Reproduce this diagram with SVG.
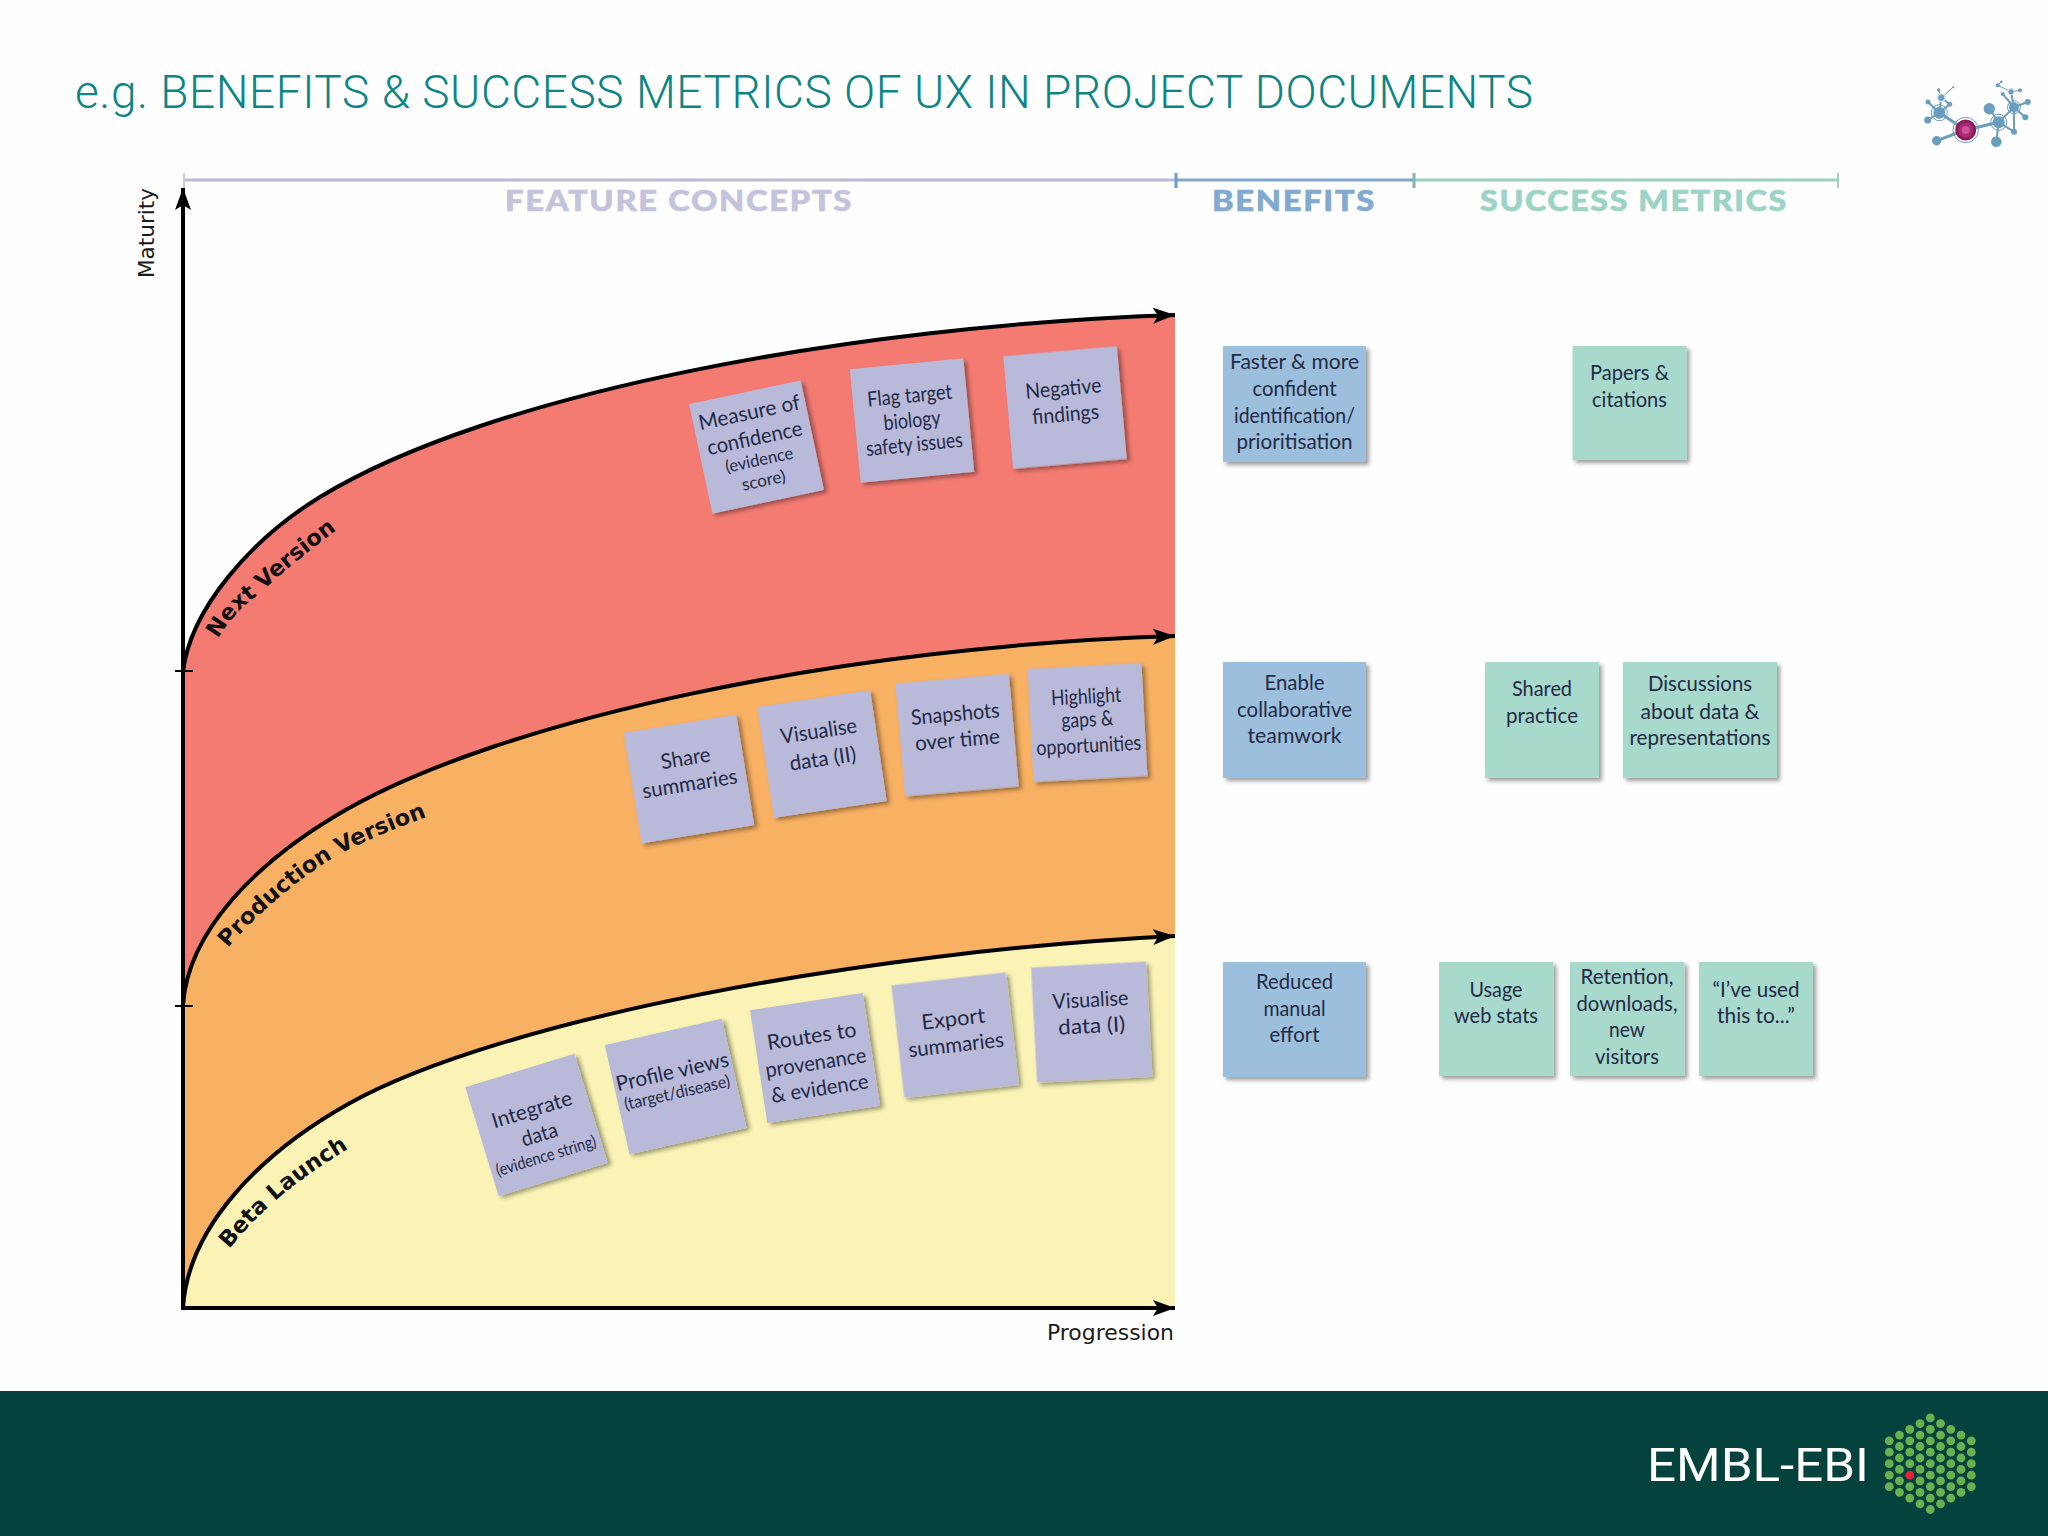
<svg xmlns="http://www.w3.org/2000/svg" xmlns:xlink="http://www.w3.org/1999/xlink" width="2048" height="1536" viewBox="0 0 2048 1536">
<style>
.t{font-family:Lato,"Liberation Sans",sans-serif;font-size:21px;text-anchor:middle;fill:#232a45}
.s{font-size:17px}
.h{font-family:Lato,"Liberation Sans",sans-serif;font-weight:900;font-size:29px;letter-spacing:1.5px;text-anchor:middle;stroke-width:0.6px}
.v{font-family:"DejaVu Sans",sans-serif;font-weight:700;font-size:22.5px;fill:#111}
.a{font-family:"DejaVu Sans",sans-serif;font-size:22px;fill:#1a1a1a}
.p{fill:#b9b9d9;filter:url(#sh)}
.b{fill:#9cbfdd;filter:url(#sh)}
.g{fill:#a7d9cd;filter:url(#sh)}
.c{fill:none;stroke:#000;stroke-width:4;marker-end:url(#ah)}
.m{stroke:#6b9dbf;fill:none}
.n{fill:#6b9dbf}
.d{fill:#6ab04f}
</style>
<defs>
<filter id="sh" x="-15%" y="-15%" width="135%" height="135%"><feDropShadow dx="3" dy="3" stdDeviation="2.2" flood-color="#000" flood-opacity="0.38"/></filter>
<marker id="ah" markerUnits="userSpaceOnUse" markerWidth="24" markerHeight="20" viewBox="0 0 24 20" refX="22" refY="10" orient="auto"><path d="M0 2L22 10L0 18L5 10Z" fill="#000"/></marker>
<path id="pn" d="M218,639 C232,615 245,605 260,593 C285,570 312,548 350,520"/>
<path id="pp" d="M228,948 C255,915 300,878 330,860 C360,842 392,830 434,814"/>
<path id="pb" d="M229,1249 C245,1230 262,1212 283,1194 C303,1178 327,1161 358,1143"/>
</defs>
<rect width="2048" height="1536" fill="#fefefe"/>
<text id="title" x="75" y="108" textLength="1458" style="font-family:Roboto,'Liberation Sans',sans-serif;font-weight:300;font-size:46px;fill:#0d8585">e.g. BENEFITS &amp; SUCCESS METRICS OF UX IN PROJECT DOCUMENTS</text>

<g id="molecule">
<g class="m" stroke-width="2">
<path stroke-width="3" d="M1965.7 130L1939.3 112.7M1965.7 130L1936.7 140.7M1965.7 130L1998.7 122.3"/>
<path d="M1939.3 112.7L1927.7 120M1939.3 112.7L1928 102M1939.3 112.7L1949.7 104.3M1939.3 112.7L1941.3 97.7M1941.3 97.7L1949.7 104.3M1998.7 122.3L1989.3 108.7M1998.7 122.3L1996.3 141.7M1998.7 122.3L2014 131.7M1998.7 122.3L2014 107.3M2014 107.3L2014 131.7M2014 107.3L2025.3 117.3M2014 107.3L2027.7 102M2014 107.3L2002.7 94M2014 107.3L2011 91.7"/>
<path stroke-width="1" d="M1941.3 97.7L1938.7 90M1941.3 97.7L1953.3 87M2011 91.7L2020 90.3M2011 91.7L1997.7 85.3M1997.7 85.3L2001.3 81.7"/>
</g>
<circle cx="1939.3" cy="112.7" r="8" fill="#fff" class="m" stroke-width="1"/>
<circle cx="1998.7" cy="122.3" r="8" fill="#fff" class="m" stroke-width="1"/>
<circle cx="2014" cy="107.3" r="6.5" fill="#fff" class="m" stroke-width="1"/>
<circle cx="1941.3" cy="97.7" r="4.5" fill="#cfe0ec"/>
<circle cx="2011" cy="91.7" r="3.6" fill="#cfe0ec"/>
<g class="n">
<circle cx="1939.3" cy="112.7" r="6"/><circle cx="1927.7" cy="120" r="3.5"/><circle cx="1928" cy="102" r="2.5"/><circle cx="1949.7" cy="104.3" r="2.5"/><circle cx="1941.3" cy="97.7" r="3"/><circle cx="1938.7" cy="90" r="1.7"/><circle cx="1953.3" cy="87" r="1"/><circle cx="1936.7" cy="140.7" r="4.7"/><circle cx="1989.3" cy="108.7" r="5.7"/><circle cx="1998.7" cy="122.3" r="6"/><circle cx="1996.3" cy="141.7" r="5.3"/><circle cx="2014" cy="131.7" r="3"/><circle cx="2014" cy="107.3" r="5"/><circle cx="2025.3" cy="117.3" r="3"/><circle cx="2027.7" cy="102" r="3"/><circle cx="2002.7" cy="94" r="2"/><circle cx="2011" cy="91.7" r="2.5"/><circle cx="2020" cy="90.3" r="2"/><circle cx="1997.7" cy="85.3" r="2"/><circle cx="2001.3" cy="81.7" r="1.3"/>
</g>
<circle cx="1965.7" cy="130" r="12.7" fill="#fff" class="m" stroke-width="1"/>
<circle cx="1965.7" cy="130" r="10.5" fill="#8c1c5c"/>
<circle cx="1965.7" cy="130" r="7.5" fill="#a82a72"/>
<circle cx="1965.7" cy="130" r="4" fill="#cf4f98"/>
</g>

<g id="header">
<path d="M184 180H1175" stroke="#b9bad6" stroke-width="3"/>
<path d="M184 173V188" stroke="#c9cade" stroke-width="2"/>
<path d="M1175 180H1414" stroke="#7fa6cb" stroke-width="3"/>
<path d="M1176 173V188" stroke="#6f9bc4" stroke-width="3"/>
<path d="M1414 180H1838" stroke="#9cd0c0" stroke-width="3"/>
<path d="M1414 173V188" stroke="#7fb5ad" stroke-width="3"/>
<path d="M1838 173V188" stroke="#9cd0c0" stroke-width="2"/>
<text class="h" x="679" y="211" textLength="348" lengthAdjust="spacingAndGlyphs" fill="#c3c3dc" stroke="#c3c3dc">FEATURE CONCEPTS</text>
<text class="h" x="1294" y="211" textLength="164" lengthAdjust="spacingAndGlyphs" fill="#82a9cf" stroke="#82a9cf">BENEFITS</text>
<text class="h" x="1634" y="211" textLength="308" lengthAdjust="spacingAndGlyphs" fill="#9cd3c5" stroke="#9cd3c5">SUCCESS METRICS</text>
</g>

<g id="bands">
<path fill="#f47b72" d="M183,672 C190,610 250,540 320,497 C490,393 850,326 1175,315 V1308 H183 Z"/>
<path fill="#f8b063" d="M183,1005 C188,930 258,862 337,815 C500,718 850,646 1175,636 V1308 H183 Z"/>
<path fill="#faf3b5" d="M183,1308 C188,1226 262,1152 350,1103 C500,1020 860,952 1175,936 V1308 Z"/>
</g>

<g id="connectors">
<path class="c" d="M183,672 C190,610 250,540 320,497 C490,393 850,326 1175,315"/>
<path class="c" d="M183,1005 C188,930 258,862 337,815 C500,718 850,646 1175,636"/>
<path class="c" d="M183,1308 C188,1226 262,1152 350,1103 C500,1020 860,952 1175,936"/>
<path class="c" d="M183,1308 V188"/>
<path class="c" d="M181,1308 H1175"/>
<path d="M175,671H193M175,1006H193" stroke="#000" stroke-width="2"/>
</g>

<g id="axis-labels">
<text class="a" transform="translate(154 278) rotate(-90)" textLength="90" lengthAdjust="spacingAndGlyphs">Maturity</text>
<text class="a" x="1047" y="1340" textLength="127" lengthAdjust="spacingAndGlyphs">Progression</text>
<text class="v"><textPath xlink:href="#pn" href="#pn">Next Version</textPath></text>
<text class="v"><textPath xlink:href="#pp" href="#pp">Production Version</textPath></text>
<text class="v"><textPath xlink:href="#pb" href="#pb">Beta Launch</textPath></text>
</g>

<g id="note-measure" transform="translate(756.5 447) rotate(-12)"><rect class="p" x="-57" y="-56" width="114" height="112"/>
<text class="t" y="-28" textLength="103" lengthAdjust="spacingAndGlyphs">Measure of</text><text class="t" y="-2" textLength="97" lengthAdjust="spacingAndGlyphs">confidence</text><text class="t s" y="19" textLength="69" lengthAdjust="spacingAndGlyphs">(evidence</text><text class="t s" y="40" textLength="44" lengthAdjust="spacingAndGlyphs">score)</text></g>
<g id="note-flag" transform="translate(912 420.5) rotate(-5.5)"><rect class="p" x="-57" y="-57" width="114" height="114"/>
<text class="t" y="-18" textLength="85" lengthAdjust="spacingAndGlyphs">Flag target</text><text class="t" y="7" textLength="57" lengthAdjust="spacingAndGlyphs">biology</text><text class="t" y="31" textLength="97" lengthAdjust="spacingAndGlyphs">safety issues</text></g>
<g id="note-negative" transform="translate(1065 407.5) rotate(-5)"><rect class="p" x="-57" y="-56.5" width="114" height="113"/>
<text class="t" y="-12" textLength="76" lengthAdjust="spacingAndGlyphs">Negative</text><text class="t" y="14" textLength="67" lengthAdjust="spacingAndGlyphs">findings</text></g>

<g id="note-share" transform="translate(689 779) rotate(-9.2)"><rect class="p" x="-57" y="-56" width="114" height="112"/>
<text class="t" y="-14" textLength="50" lengthAdjust="spacingAndGlyphs">Share</text><text class="t" y="12" textLength="96" lengthAdjust="spacingAndGlyphs">summaries</text></g>
<g id="note-visualise2" transform="translate(822 754) rotate(-8.5)"><rect class="p" x="-57" y="-56" width="114" height="112"/>
<text class="t" y="-16" textLength="77" lengthAdjust="spacingAndGlyphs">Visualise</text><text class="t" y="12" textLength="67" lengthAdjust="spacingAndGlyphs">data (II)</text></g>
<g id="note-snapshots" transform="translate(957 735) rotate(-5)"><rect class="p" x="-57" y="-56.5" width="114" height="113"/>
<text class="t" y="-14" textLength="89" lengthAdjust="spacingAndGlyphs">Snapshots</text><text class="t" y="12" textLength="85" lengthAdjust="spacingAndGlyphs">over time</text></g>
<g id="note-highlight" transform="translate(1087.5 722.5) rotate(-3)"><rect class="p" x="-57" y="-56.5" width="114" height="113"/>
<text class="t" y="-19" textLength="70" lengthAdjust="spacingAndGlyphs">Highlight</text><text class="t" y="4" textLength="52" lengthAdjust="spacingAndGlyphs">gaps &amp;</text><text class="t" y="30" textLength="105" lengthAdjust="spacingAndGlyphs">opportunities</text></g>

<g id="note-integrate" transform="translate(536.5 1125) rotate(-17)"><rect class="p" x="-57" y="-57" width="114" height="114"/>
<text class="t" y="-9" textLength="83" lengthAdjust="spacingAndGlyphs">Integrate</text><text class="t" y="17" textLength="37" lengthAdjust="spacingAndGlyphs">data</text><text class="t s" y="38" textLength="104" lengthAdjust="spacingAndGlyphs">(evidence string)</text></g>
<g id="note-profile" transform="translate(675.7 1086.5) rotate(-12.7)"><rect class="p" x="-60" y="-56" width="120" height="112"/>
<text class="t" y="-8" textLength="115" lengthAdjust="spacingAndGlyphs">Profile views</text><text class="t s" y="12" textLength="108" lengthAdjust="spacingAndGlyphs">(target/disease)</text></g>
<g id="note-routes" transform="translate(815 1058) rotate(-8.7)"><rect class="p" x="-57" y="-57" width="114" height="114"/>
<text class="t" y="-15" textLength="90" lengthAdjust="spacingAndGlyphs">Routes to</text><text class="t" y="12" textLength="102" lengthAdjust="spacingAndGlyphs">provenance</text><text class="t" y="38" textLength="98" lengthAdjust="spacingAndGlyphs">&amp; evidence</text></g>
<g id="note-export" transform="translate(955 1035) rotate(-6.5)"><rect class="p" x="-57.5" y="-56.5" width="115" height="113"/>
<text class="t" y="-9" textLength="64" lengthAdjust="spacingAndGlyphs">Export</text><text class="t" y="17" textLength="96" lengthAdjust="spacingAndGlyphs">summaries</text></g>
<g id="note-visualise1" transform="translate(1091.5 1022) rotate(-3)"><rect class="p" x="-57.5" y="-57.5" width="115" height="115"/>
<text class="t" y="-15" textLength="76" lengthAdjust="spacingAndGlyphs">Visualise</text><text class="t" y="11" textLength="67" lengthAdjust="spacingAndGlyphs">data (I)</text></g>

<g id="benefit-faster"><rect class="b" x="1223" y="346" width="143" height="116"/>
<text class="t" x="1294.5" y="369" textLength="129" lengthAdjust="spacingAndGlyphs">Faster &amp; more</text><text class="t" x="1294.5" y="396" textLength="84" lengthAdjust="spacingAndGlyphs">confident</text><text class="t" x="1294.5" y="423" textLength="121" lengthAdjust="spacingAndGlyphs">identification/</text><text class="t" x="1294.5" y="449" textLength="116" lengthAdjust="spacingAndGlyphs">prioritisation</text></g>
<g id="benefit-enable"><rect class="b" x="1223" y="662" width="143" height="116"/>
<text class="t" x="1294.5" y="690" textLength="60" lengthAdjust="spacingAndGlyphs">Enable</text><text class="t" x="1294.5" y="717" textLength="115" lengthAdjust="spacingAndGlyphs">collaborative</text><text class="t" x="1294.5" y="743" textLength="94" lengthAdjust="spacingAndGlyphs">teamwork</text></g>
<g id="benefit-reduced"><rect class="b" x="1223" y="962" width="143" height="115"/>
<text class="t" x="1294.5" y="989" textLength="77" lengthAdjust="spacingAndGlyphs">Reduced</text><text class="t" x="1294.5" y="1016" textLength="62" lengthAdjust="spacingAndGlyphs">manual</text><text class="t" x="1294.5" y="1042" textLength="50" lengthAdjust="spacingAndGlyphs">effort</text></g>

<g id="metric-papers"><rect class="g" x="1572.5" y="346" width="114" height="114"/>
<text class="t" x="1629.5" y="380" textLength="79" lengthAdjust="spacingAndGlyphs">Papers &amp;</text><text class="t" x="1629.5" y="407" textLength="75" lengthAdjust="spacingAndGlyphs">citations</text></g>
<g id="metric-shared"><rect class="g" x="1485" y="662" width="114" height="116"/>
<text class="t" x="1542" y="696" textLength="60" lengthAdjust="spacingAndGlyphs">Shared</text><text class="t" x="1542" y="723" textLength="72" lengthAdjust="spacingAndGlyphs">practice</text></g>
<g id="metric-discussions"><rect class="g" x="1623" y="662" width="154" height="116"/>
<text class="t" x="1700" y="691" textLength="104" lengthAdjust="spacingAndGlyphs">Discussions</text><text class="t" x="1700" y="719" textLength="119" lengthAdjust="spacingAndGlyphs">about data &amp;</text><text class="t" x="1700" y="745" textLength="141" lengthAdjust="spacingAndGlyphs">representations</text></g>
<g id="metric-usage"><rect class="g" x="1439" y="962" width="114.5" height="114"/>
<text class="t" x="1496" y="997" textLength="53" lengthAdjust="spacingAndGlyphs">Usage</text><text class="t" x="1496" y="1023" textLength="84" lengthAdjust="spacingAndGlyphs">web stats</text></g>
<g id="metric-retention"><rect class="g" x="1570" y="962" width="114.5" height="114"/>
<text class="t" x="1627" y="984" textLength="93" lengthAdjust="spacingAndGlyphs">Retention,</text><text class="t" x="1627" y="1011" textLength="101" lengthAdjust="spacingAndGlyphs">downloads,</text><text class="t" x="1627" y="1037" textLength="36" lengthAdjust="spacingAndGlyphs">new</text><text class="t" x="1627" y="1064" textLength="64" lengthAdjust="spacingAndGlyphs">visitors</text></g>
<g id="metric-used"><rect class="g" x="1699" y="962" width="114" height="114"/>
<text class="t" x="1756" y="997" textLength="87" lengthAdjust="spacingAndGlyphs">“I’ve used</text><text class="t" x="1756" y="1023" textLength="78" lengthAdjust="spacingAndGlyphs">this to...”</text></g>

<g id="footer">
<rect x="0" y="1391" width="2048" height="145" fill="#04423e"/>
<text x="1647" y="1481" textLength="222" lengthAdjust="spacingAndGlyphs" style="font-family:Roboto,'Liberation Sans',sans-serif;font-weight:400;font-size:47px;fill:#fff">EMBL-EBI</text>
<g class="d">
<circle cx="1930.3" cy="1417.9" r="4.4"/><circle cx="1930.3" cy="1429.3" r="4.4"/><circle cx="1930.3" cy="1440.8" r="4.4"/><circle cx="1930.3" cy="1452.2" r="4.4"/><circle cx="1930.3" cy="1463.7" r="4.4"/><circle cx="1930.3" cy="1475.2" r="4.4"/><circle cx="1930.3" cy="1486.6" r="4.4"/><circle cx="1930.3" cy="1498.1" r="4.4"/><circle cx="1930.3" cy="1509.5" r="4.4"/>
<circle cx="1920" cy="1423.6" r="4.4"/><circle cx="1920" cy="1435.1" r="4.4"/><circle cx="1920" cy="1446.5" r="4.4"/><circle cx="1920" cy="1458" r="4.4"/><circle cx="1920" cy="1469.4" r="4.4"/><circle cx="1920" cy="1480.9" r="4.4"/><circle cx="1920" cy="1492.3" r="4.4"/><circle cx="1920" cy="1503.8" r="4.4"/>
<circle cx="1940.5" cy="1423.6" r="4.4"/><circle cx="1940.5" cy="1435.1" r="4.4"/><circle cx="1940.5" cy="1446.5" r="4.4"/><circle cx="1940.5" cy="1458" r="4.4"/><circle cx="1940.5" cy="1469.4" r="4.4"/><circle cx="1940.5" cy="1480.9" r="4.4"/><circle cx="1940.5" cy="1492.3" r="4.4"/><circle cx="1940.5" cy="1503.8" r="4.4"/>
<circle cx="1909.8" cy="1429.3" r="4.4"/><circle cx="1909.8" cy="1440.8" r="4.4"/><circle cx="1909.8" cy="1452.2" r="4.4"/><circle cx="1909.8" cy="1463.7" r="4.4"/><circle cx="1909.8" cy="1486.6" r="4.4"/><circle cx="1909.8" cy="1498.1" r="4.4"/>
<circle cx="1950.8" cy="1429.3" r="4.4"/><circle cx="1950.8" cy="1440.8" r="4.4"/><circle cx="1950.8" cy="1452.2" r="4.4"/><circle cx="1950.8" cy="1463.7" r="4.4"/><circle cx="1950.8" cy="1475.2" r="4.4"/><circle cx="1950.8" cy="1486.6" r="4.4"/><circle cx="1950.8" cy="1498.1" r="4.4"/>
<circle cx="1899.5" cy="1435.1" r="4.4"/><circle cx="1899.5" cy="1446.5" r="4.4"/><circle cx="1899.5" cy="1458" r="4.4"/><circle cx="1899.5" cy="1469.4" r="4.4"/><circle cx="1899.5" cy="1480.9" r="4.4"/><circle cx="1899.5" cy="1492.3" r="4.4"/>
<circle cx="1961" cy="1435.1" r="4.4"/><circle cx="1961" cy="1446.5" r="4.4"/><circle cx="1961" cy="1458" r="4.4"/><circle cx="1961" cy="1469.4" r="4.4"/><circle cx="1961" cy="1480.9" r="4.4"/><circle cx="1961" cy="1492.3" r="4.4"/>
<circle cx="1889.3" cy="1440.8" r="4.4"/><circle cx="1889.3" cy="1452.2" r="4.4"/><circle cx="1889.3" cy="1463.7" r="4.4"/><circle cx="1889.3" cy="1475.2" r="4.4"/><circle cx="1889.3" cy="1486.6" r="4.4"/>
<circle cx="1971.3" cy="1440.8" r="4.4"/><circle cx="1971.3" cy="1452.2" r="4.4"/><circle cx="1971.3" cy="1463.7" r="4.4"/><circle cx="1971.3" cy="1475.2" r="4.4"/><circle cx="1971.3" cy="1486.6" r="4.4"/>
</g>
<circle cx="1909.8" cy="1475.2" r="4.4" fill="#e8203a"/>
</g>
</svg>
